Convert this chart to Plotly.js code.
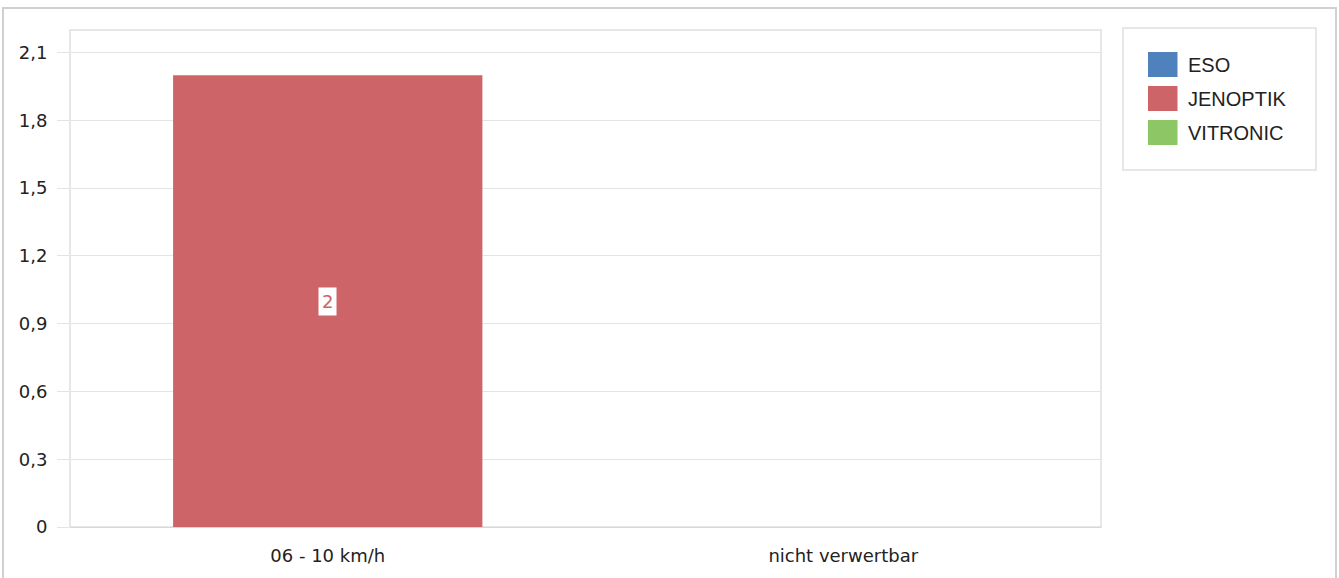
<!DOCTYPE html>
<html>
<head>
<meta charset="utf-8">
<script src="https://cdn.plot.ly/plotly-3.0.1.min.js"></script>
<style>
html,body{margin:0;padding:0;background:#fff;}
#chart{width:1339px;height:578px;}
</style>
</head>
<body>
<div id="chart"></div>
<script>
// ---- data ----
const categories = ["06 - 10 km/h", "nicht verwertbar"];
const seriesNames = ["ESO", "JENOPTIK", "VITRONIC"];
const esoValues = [0, 0];
const jenoptikValues = [2, 0];
const vitronicValues = [0, 0];
const yTickValues = [0, 0.3, 0.6, 0.9, 1.2, 1.5, 1.8, 2.1];

const seriesValues = [esoValues, jenoptikValues, vitronicValues];
const colors = ["#4F81BD", "#CD6467", "#8CC665"];

const traces = seriesNames.map((name, i) => ({
  type: "bar",
  name: name,
  x: categories,
  y: seriesValues[i],
  marker: {color: colors[i], line: {width: 0}},
  legendgroup: name,
  hoverinfo: "x+y+name"
}));

// data labels for non-zero values
const annotations = [];
seriesValues.forEach((vals, i) => {
  vals.forEach((v, j) => {
    if (v > 0) {
      annotations.push({
        x: categories[j], y: v / 2, xref: "x", yref: "y",
        text: String(v), showarrow: false,
        font: {family: "DejaVu Sans, sans-serif", size: 18, color: colors[i]},
        bgcolor: "#ffffff", borderpad: 3
      });
    }
  });
});

// pixel helpers for the frame shapes (plot area 70..1101 x 30..527)
const L = 70, R = 1101, T = 30, B = 527;
const px = v => (v - L) / (R - L);
const py = v => (B - v) / (B - T);

const layout = {
  width: 1339, height: 578,
  margin: {l: L, r: 1339 - R, t: T, b: 578 - B, pad: 0},
  paper_bgcolor: "#ffffff", plot_bgcolor: "#ffffff",
  separators: ", ",
  barmode: "overlay",
  bargap: 0.4,
  showlegend: true,
  legend: {
    x: px(1148), y: py(45), xanchor: "left", yanchor: "top",
    font: {family: "Liberation Sans, Arial, sans-serif", size: 20, color: "#222"},
    bgcolor: "rgba(0,0,0,0)", borderwidth: 0,
    tracegroupgap: 5, itemclick: false, itemdoubleclick: false
  },
  xaxis: {
    type: "category",
    tickfont: {family: "DejaVu Sans, sans-serif", size: 18, color: "#222"},
    showgrid: false, zeroline: false,
    showline: false, ticks: "", ticklabelstandoff: 16,
    fixedrange: true
  },
  yaxis: {
    range: [0, 2.2],
    tickvals: yTickValues,
    tickfont: {family: "DejaVu Sans, sans-serif", size: 18, color: "#222"},
    showgrid: true, gridcolor: "#e4e4e4", gridwidth: 1,
    zeroline: true, zerolinecolor: "#d8d8d8", zerolinewidth: 1,
    ticks: "outside", ticklen: 12, tickcolor: "#e4e4e4",
    ticklabelstandoff: 6, showline: false, fixedrange: true
  },
  annotations: annotations,
  shapes: [
    // plot area box
    {type: "rect", xref: "paper", yref: "paper", x0: 0, x1: 1, y0: 0, y1: 1,
     line: {color: "#e0e0e0", width: 1.5}, layer: "below"},
    // legend box
    {type: "rect", xref: "paper", yref: "paper", x0: px(1123), x1: px(1316), y0: py(170), y1: py(28),
     line: {color: "#e0e0e0", width: 1.5}, layer: "below"},
    // outer frame
    {type: "rect", xref: "paper", yref: "paper", x0: px(3), x1: px(1336), y0: py(620), y1: py(8),
     line: {color: "#d0d0d0", width: 2}, layer: "below"}
  ]
};

const gd = document.getElementById("chart");
function bigSwatches() {
  gd.querySelectorAll(".legendpoints path").forEach(p => {
    p.setAttribute("d", "M9.5,12.5H-26.5V-12.5H9.5Z");
  });
}
Plotly.newPlot(gd, traces, layout, {displayModeBar: false, staticPlot: false}).then(() => {
  bigSwatches();
  gd.on("plotly_afterplot", bigSwatches);
});
</script>
</body>
</html>
